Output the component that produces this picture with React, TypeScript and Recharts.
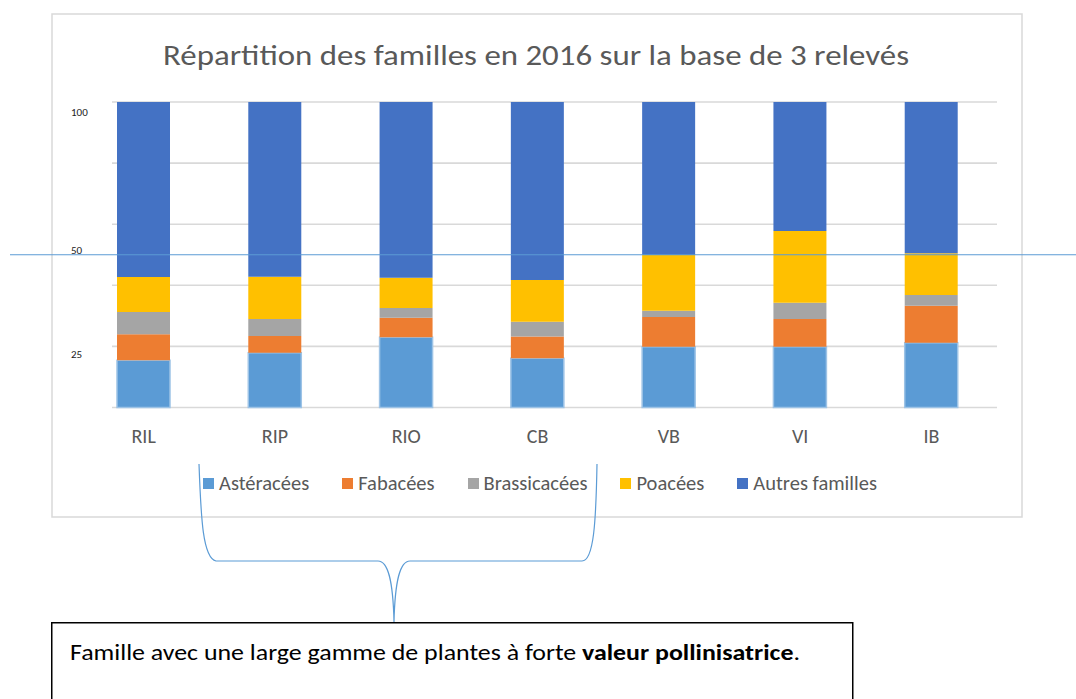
import React from 'react';
import { BarChart, Bar, XAxis, YAxis, CartesianGrid, Legend, ReferenceLine } from 'recharts';

const categories = ['RIL', 'RIP', 'RIO', 'CB', 'VB', 'VI', 'IB'];
const asteracees = [15.5, 17.9, 23.0, 16.1, 19.9, 19.9, 21.2];
const fabacees = [8.5, 5.5, 6.4, 7.1, 9.7, 9.1, 12.1];
const brassicacees = [7.3, 5.6, 3.2, 4.9, 2.1, 5.3, 3.5];
const poacees = [11.4, 13.8, 9.9, 13.6, 18.2, 23.5, 13.7];
const autres = [57.3, 57.2, 57.5, 58.3, 50.1, 42.2, 49.5];

const seriesNames = ['Astéracées', 'Fabacées', 'Brassicacées', 'Poacées', 'Autres familles'];
const seriesKeys = ['ast', 'fab', 'bra', 'poa', 'aut'];
const seriesColors = ['#5B9BD5', '#ED7D31', '#A5A5A5', '#FFC000', '#4472C4'];
const yTicks = [0, 20, 40, 60, 80, 100];
const yLabelTexts = ['100', '50', '25'];
const referenceValue = 50;
const title = 'Répartition des familles en 2016 sur la base de 3 relevés';
const noteText = 'Famille avec une large gamme de plantes à forte ';
const noteBold = 'valeur pollinisatrice';

const data = categories.map((name, i) => ({
  name,
  ast: asteracees[i],
  fab: fabacees[i],
  bra: brassicacees[i],
  poa: poacees[i],
  aut: autres[i],
}));

const FONT = "Carlito, Calibri, Lato, 'Open Sans', sans-serif";
const TEXT_GREY = '#595959';

const renderLegend = (props: any) => {
  const payload = [...(props.payload || [])].sort(
    (a: any, b: any) => seriesNames.indexOf(a.value) - seriesNames.indexOf(b.value)
  );
  return (
    <div
      style={{
        display: 'flex',
        justifyContent: 'center',
        gap: 33,
        fontFamily: FONT,
        fontSize: 20.5,
        color: TEXT_GREY,
        lineHeight: '22px',
        paddingLeft: 4,
      }}
    >
      {payload.map((p: any) => (
        <div key={p.value} style={{ display: 'flex', alignItems: 'center' }}>
          <span
            style={{ display: 'inline-block', width: 11, height: 11, background: p.color, marginRight: 5 }}
          />
          <span>{p.value}</span>
        </div>
      ))}
    </div>
  );
};

const gridLine = (p: any) => (
  <line
    key={p.key ?? `${p.y1}`}
    x1={p.x1 + 34}
    y1={p.y1}
    x2={p.x2}
    y2={p.y2}
    stroke="#d9d9d9"
    strokeWidth={1.6}
  />
);

const refLine = (p: any) => (
  <line x1={10} y1={p.y1} x2={1076} y2={p.y2} stroke="#5B9BD5" strokeWidth={1.2} />
);

export default function App() {
  return (
    <div style={{ position: 'relative', width: 1076, height: 699, overflow: 'hidden', background: '#fff' }}>
      <style>{'html,body{margin:0;padding:0;overflow:hidden;background:#fff}'}</style>
      <svg
        width={1076}
        height={699}
        style={{ position: 'absolute', left: 0, top: 0 }}
      >
        <rect x={52} y={14} width={970} height={503} fill="#fff" stroke="#d9d9d9" strokeWidth={1.5} />
      </svg>
      <div style={{ position: 'absolute', left: 0, top: 0 }}>
        <BarChart
          width={1076}
          height={699}
          data={data}
          margin={{ top: 102, right: 79, left: 78, bottom: 261.5 }}
          barSize={53}
        >
          <CartesianGrid vertical={false} horizontal={gridLine} />
          <XAxis
            dataKey="name"
            axisLine={false}
            tickLine={false}
            tickSize={6}
            tickMargin={15}
            height={30}
            interval={0}
            tick={{ fill: TEXT_GREY, fontSize: 20, fontFamily: FONT }}
          />
          <YAxis hide type="number" domain={[0, 100]} ticks={yTicks} />
          {seriesKeys.map((k, i) => (
            <Bar
              key={k}
              dataKey={k}
              name={seriesNames[i]}
              stackId="a"
              fill={seriesColors[i]}
              stroke={i === 0 ? '#9DC3E6' : undefined}
              strokeWidth={i === 0 ? 1.5 : 0}
              isAnimationActive={false}
            />
          ))}
          <ReferenceLine y={referenceValue} shape={refLine} />
          <Legend
            layout="horizontal"
            verticalAlign="middle"
            align="center"
            wrapperStyle={{ top: 472, left: 0, width: 1076 }}
            content={renderLegend}
          />
        </BarChart>
      </div>
      <svg
        width={1076}
        height={699}
        style={{ position: 'absolute', left: 0, top: 0, pointerEvents: 'none' }}
      >
        <text
          x={536}
          y={65}
          textAnchor="middle"
          fontFamily={FONT}
          fontSize={28.5}
          fontWeight={300}
          fill={TEXT_GREY}
          textLength={746}
          lengthAdjust="spacingAndGlyphs"
        >
          {title}
        </text>
        <text x={71} y={116} fontFamily={FONT} fontSize={11} fill="#222">{yLabelTexts[0]}</text>
        <text x={71} y={254} fontFamily={FONT} fontSize={11} fill="#222">{yLabelTexts[1]}</text>
        <text x={71} y={358} fontFamily={FONT} fontSize={11} fill="#222">{yLabelTexts[2]}</text>
        <path
          d="M199 464 C201 520 203 558 216 561 L378 561 C388 561 393 580 394 622 C395 580 400 561 410 561 L582 561 C594 561 596 520 597 464"
          fill="none"
          stroke="#5B9BD5"
          strokeWidth={1.2}
        />
        <rect x={51.75} y={622.75} width={801} height={120} fill="#fff" stroke="#000" strokeWidth={1.5} />
        <text
          x={70}
          y={660}
          fontFamily={FONT}
          fontSize={22}
          fill="#000"
          textLength={730}
          lengthAdjust="spacingAndGlyphs"
          style={{ whiteSpace: 'pre' }}
        >
          <tspan>{noteText}</tspan>
          <tspan fontWeight="bold">{noteBold}</tspan>
          <tspan>.</tspan>
        </text>
      </svg>
    </div>
  );
}
